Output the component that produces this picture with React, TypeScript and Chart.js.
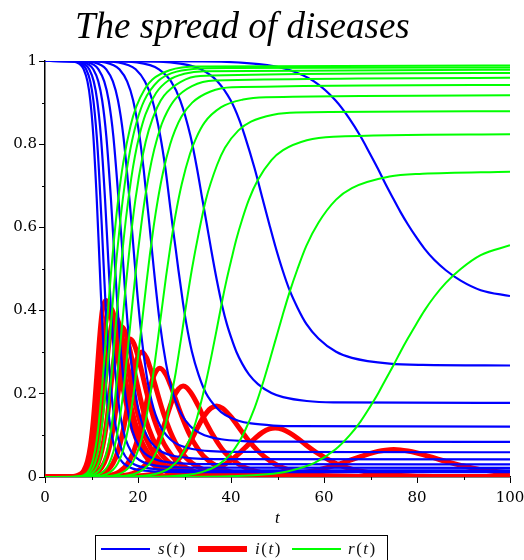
import React, { useEffect, useRef } from "react";
import { Chart, registerables } from "chart.js";

Chart.register(...registerables);

// ---- data (t, s(t), i(t), r(t) per curve) ----
const t15 = [0, 33.9, 47.8, 52.1, 57.85, 62.5, 65.5, 67.85, 69.8, 71.6, 73.2, 75, 76.4, 78.05, 79.8, 81.6, 83.7, 86.2, 89.4, 93.7, 100];
const s15 = [1, 0.999, 0.99, 0.98, 0.951, 0.905, 0.861, 0.819, 0.779, 0.741, 0.705, 0.667, 0.638, 0.607, 0.577, 0.549, 0.522, 0.497, 0.472, 0.449, 0.435];
const i15 = [0, 0.0003, 0.0033, 0.0065, 0.0154, 0.0285, 0.0398, 0.049, 0.0562, 0.0615, 0.0645, 0.066, 0.0652, 0.0625, 0.0584, 0.0528, 0.0458, 0.0375, 0.028, 0.0175, 0.01];
const r15 = [0, 0.0007, 0.0067, 0.0133, 0.0333, 0.0667, 0.1, 0.1333, 0.1667, 0.2, 0.2333, 0.27, 0.3, 0.3333, 0.3667, 0.4, 0.4333, 0.4667, 0.5, 0.5333, 0.557];

const t18 = [0, 22.2, 30.9, 33.55, 37.1, 39.95, 41.7, 43, 45.1, 46.76, 48.25, 49.5, 51.1, 52.6, 54.3, 56.2, 58.8, 62.6, 66, 74.1, 81.2, 100];
const s18 = [1, 0.999, 0.99, 0.98, 0.951, 0.905, 0.861, 0.819, 0.741, 0.67, 0.607, 0.556, 0.497, 0.449, 0.407, 0.368, 0.333, 0.301, 0.2865, 0.2725, 0.2693, 0.268];
const i18 = [0, 0.0004, 0.0044, 0.0087, 0.021, 0.0396, 0.056, 0.0702, 0.0925, 0.1075, 0.1157, 0.1179, 0.1145, 0.1062, 0.0934, 0.0766, 0.056, 0.0321, 0.0191, 0.0052, 0.0018, 0];
const r18 = [0, 0.0006, 0.0056, 0.0111, 0.0278, 0.0556, 0.0833, 0.1111, 0.1667, 0.2222, 0.2778, 0.3266, 0.3889, 0.4444, 0.5, 0.5556, 0.6111, 0.6667, 0.6944, 0.7222, 0.7289, 0.734];

const t21 = [0, 16.3, 22.6, 24.5, 27.1, 29.1, 31.3, 32.7, 33.8, 34.8, 35.7, 36.9, 38.2, 39.1, 40.1, 41.15, 42.4, 43.85, 45.8, 48.7, 51.2, 56.3, 62, 100];
const s21 = [1, 0.999, 0.99, 0.98, 0.951, 0.905, 0.819, 0.741, 0.67, 0.607, 0.549, 0.476, 0.407, 0.368, 0.333, 0.301, 0.2725, 0.2466, 0.2231, 0.2019, 0.1921, 0.1827, 0.1794, 0.178];
const i21 = [0, 0.0005, 0.0052, 0.0103, 0.025, 0.0475, 0.086, 0.1163, 0.1392, 0.1554, 0.1655, 0.1705, 0.1649, 0.1559, 0.1433, 0.1274, 0.1084, 0.0867, 0.0626, 0.0362, 0.0222, 0.0078, 0.0025, 0];
const r21 = [0, 0.0005, 0.0048, 0.0095, 0.0238, 0.0476, 0.0952, 0.1429, 0.1905, 0.2381, 0.2857, 0.3533, 0.4286, 0.4762, 0.5238, 0.5714, 0.619, 0.6667, 0.7143, 0.7619, 0.7857, 0.8095, 0.8181, 0.824];

const t24 = [0, 13.05, 18, 19.5, 21.5, 23.1, 24.8, 25.9, 26.7, 27.4, 28.1, 28.7, 29.7, 30.4, 31.6, 33, 34.6, 37, 38.7, 41.6, 44.3, 49.1, 54, 100];
const s24 = [1, 0.999, 0.99, 0.98, 0.951, 0.905, 0.819, 0.741, 0.67, 0.607, 0.549, 0.497, 0.4167, 0.368, 0.301, 0.2466, 0.2019, 0.1653, 0.1496, 0.1353, 0.1287, 0.1237, 0.1221, 0.1213];
const i24 = [0, 0.0006, 0.0058, 0.0115, 0.0279, 0.0535, 0.0979, 0.1342, 0.163, 0.1851, 0.2012, 0.2117, 0.2185, 0.2155, 0.1988, 0.1701, 0.1314, 0.0847, 0.0588, 0.0313, 0.0171, 0.0055, 0.0017, 0];
const r24 = [0, 0.0004, 0.0042, 0.0083, 0.0208, 0.0417, 0.0833, 0.125, 0.1667, 0.2083, 0.25, 0.2917, 0.3648, 0.4167, 0.5, 0.5833, 0.6667, 0.75, 0.7917, 0.8333, 0.8542, 0.8708, 0.8762, 0.8795];

const t27 = [0, 10.7, 14.76, 16, 17.66, 18.96, 20.33, 21.2, 22.45, 23.43, 24.7, 26.03, 26.98, 28.06, 29.4, 31.2, 32.5, 34.3, 37.9, 42.6, 47.5, 100];
const s27 = [1, 0.999, 0.99, 0.98, 0.951, 0.905, 0.819, 0.741, 0.607, 0.497, 0.37, 0.2725, 0.2231, 0.1827, 0.1496, 0.1225, 0.1108, 0.1003, 0.0907, 0.0863, 0.085, 0.0845];
const i27 = [0, 0.0006, 0.0062, 0.0124, 0.0303, 0.0581, 0.1072, 0.1481, 0.2083, 0.2442, 0.2617, 0.246, 0.2213, 0.1877, 0.1467, 0.0998, 0.0744, 0.0479, 0.0204, 0.0063, 0.002, 0];
const r27 = [0, 0.0004, 0.0037, 0.0074, 0.0185, 0.037, 0.0741, 0.1111, 0.1852, 0.2593, 0.3679, 0.4815, 0.5556, 0.6296, 0.7037, 0.7778, 0.8148, 0.8519, 0.8889, 0.9074, 0.913, 0.9175];

const t30 = [0, 8.67, 12.13, 13.18, 14.6, 15.7, 16.86, 18.15, 19.04, 19.79, 20.8, 21.82, 22.54, 23.34, 24.27, 25.4, 26.92, 27.96, 29.36, 31.66, 35.6, 40.2, 100];
const s30 = [1, 0.999, 0.99, 0.98, 0.951, 0.905, 0.819, 0.67, 0.549, 0.449, 0.3333, 0.2466, 0.2019, 0.1653, 0.1353, 0.1108, 0.0907, 0.0821, 0.0743, 0.0672, 0.062, 0.0602, 0.0595];
const i30 = [0, 0.0007, 0.0066, 0.0131, 0.0321, 0.0618, 0.1146, 0.1963, 0.2512, 0.284, 0.3005, 0.2867, 0.2648, 0.2347, 0.198, 0.1559, 0.1093, 0.0846, 0.0591, 0.0328, 0.0113, 0.0031, 0];
const r30 = [0, 0.0003, 0.0033, 0.0067, 0.0167, 0.0333, 0.0667, 0.1333, 0.2, 0.2667, 0.3662, 0.4667, 0.5333, 0.6, 0.6667, 0.7333, 0.8, 0.8333, 0.8667, 0.9, 0.9267, 0.9367, 0.9425];

const t33 = [0, 7.6, 10.6, 11.5, 12.74, 13.7, 14.7, 15.8, 16.6, 17.2, 17.77, 18.3, 18.86, 19.43, 20.03, 20.7, 21.45, 22.35, 23.5, 25.1, 26.3, 28.05, 31.6, 36.4, 100];
const s33 = [1, 0.999, 0.99, 0.98, 0.951, 0.905, 0.819, 0.67, 0.549, 0.449, 0.368, 0.303, 0.2466, 0.2019, 0.1653, 0.1353, 0.1108, 0.0907, 0.0743, 0.0608, 0.055, 0.0498, 0.045, 0.0431, 0.0424];
const i33 = [0, 0.0007, 0.0069, 0.0137, 0.0336, 0.0649, 0.1207, 0.2085, 0.2694, 0.3062, 0.326, 0.332, 0.326, 0.3113, 0.2882, 0.2586, 0.2225, 0.182, 0.1378, 0.0907, 0.0662, 0.0411, 0.0156, 0.0039, 0];
const r33 = [0, 0.0003, 0.003, 0.0061, 0.0152, 0.0303, 0.0606, 0.1212, 0.1818, 0.2424, 0.303, 0.3618, 0.4242, 0.4848, 0.5455, 0.6061, 0.6667, 0.7273, 0.7879, 0.8485, 0.8788, 0.9091, 0.9394, 0.953, 0.9595];

const t36 = [0, 6.9, 9.57, 10.38, 11.46, 12.3, 13.19, 14.17, 14.83, 15.37, 15.85, 16.5, 17.24, 18.24, 19.44, 21.1, 22.3, 24.13, 25.6, 29.2, 33.4, 100];
const s36 = [1, 0.999, 0.99, 0.98, 0.951, 0.905, 0.819, 0.67, 0.549, 0.449, 0.368, 0.2778, 0.2019, 0.1353, 0.0907, 0.0608, 0.0498, 0.0408, 0.0369, 0.0327, 0.0311, 0.0305];
const i36 = [0, 0.0007, 0.0072, 0.0143, 0.0349, 0.0674, 0.1257, 0.2186, 0.2825, 0.325, 0.3495, 0.361, 0.349, 0.3065, 0.2426, 0.1614, 0.1169, 0.0703, 0.0465, 0.0173, 0.005, 0];
const r36 = [0, 0.0003, 0.0028, 0.0056, 0.0139, 0.0278, 0.0556, 0.1111, 0.1667, 0.2222, 0.2778, 0.3558, 0.4444, 0.5556, 0.6667, 0.7778, 0.8333, 0.8889, 0.9167, 0.95, 0.9639, 0.971];

const t39 = [0, 6.4, 8.79, 9.51, 10.48, 11.23, 12.02, 12.9, 13.48, 13.96, 14.385, 14.785, 15.1, 15.57, 16.4, 17.35, 18.55, 19.31, 20.28, 21.61, 23.88, 26.6, 29.95, 34.2, 100];
const s39 = [1, 0.999, 0.99, 0.98, 0.951, 0.905, 0.819, 0.67, 0.549, 0.449, 0.368, 0.301, 0.2564, 0.2019, 0.1353, 0.0907, 0.0608, 0.0498, 0.0408, 0.0334, 0.0273, 0.0242, 0.0228, 0.0223, 0.0221];
const i39 = [0, 0.0007, 0.0074, 0.0147, 0.036, 0.0695, 0.13, 0.2271, 0.2953, 0.341, 0.368, 0.381, 0.385, 0.379, 0.346, 0.2915, 0.2212, 0.181, 0.1387, 0.0948, 0.0496, 0.022, 0.0079, 0.0022, 0];
const r39 = [0, 0.0003, 0.0026, 0.0051, 0.0128, 0.0256, 0.0513, 0.1026, 0.1538, 0.2051, 0.2564, 0.3077, 0.349, 0.4103, 0.5128, 0.6154, 0.7179, 0.7692, 0.8205, 0.8718, 0.9231, 0.9538, 0.9692, 0.9756, 0.979];

const t42 = [0, 6.03, 8.2, 8.85, 9.73, 10.41, 11.13, 11.58, 12.2, 12.66, 13.06, 13.42, 14, 14.63, 15.37, 16.22, 17.27, 17.93, 18.74, 19.8, 21.34, 24.4, 27.4, 31.9, 40, 100];
const s42 = [1, 0.999, 0.99, 0.98, 0.951, 0.905, 0.819, 0.741, 0.607, 0.497, 0.407, 0.333, 0.2381, 0.1653, 0.1108, 0.0743, 0.0498, 0.0408, 0.0334, 0.0273, 0.0224, 0.0183, 0.0169, 0.0162, 0.0161, 0.016];
const i42 = [0, 0.0008, 0.0076, 0.0151, 0.0369, 0.0714, 0.1337, 0.1878, 0.2724, 0.332, 0.372, 0.394, 0.407, 0.396, 0.358, 0.3035, 0.2359, 0.1973, 0.1571, 0.1155, 0.0729, 0.0293, 0.0117, 0.0028, 0.0005, 0];
const r42 = [0, 0.0002, 0.0024, 0.0048, 0.0119, 0.0238, 0.0476, 0.0714, 0.119, 0.1667, 0.2143, 0.2619, 0.3417, 0.4286, 0.5238, 0.619, 0.7143, 0.7619, 0.8095, 0.8571, 0.9048, 0.9524, 0.9714, 0.981, 0.9834, 0.9845];

const t45 = [0, 5.75, 7.73, 8.33, 9.13, 9.75, 10.4, 11.12, 11.6, 11.98, 12.32, 12.64, 13.1, 13.55, 14.18, 14.9, 15.74, 16.83, 18.4, 19.59, 21.49, 23.1, 26.8, 32.8, 100];
const s45 = [1, 0.999, 0.99, 0.98, 0.951, 0.905, 0.819, 0.67, 0.549, 0.449, 0.368, 0.301, 0.2222, 0.1653, 0.1108, 0.0743, 0.0498, 0.0334, 0.0224, 0.0183, 0.015, 0.0136, 0.0123, 0.0118, 0.0117];
const i45 = [0, 0.0008, 0.0078, 0.0154, 0.0377, 0.0729, 0.1368, 0.2395, 0.314, 0.365, 0.4, 0.415, 0.424, 0.416, 0.387, 0.3405, 0.2805, 0.2111, 0.1332, 0.0928, 0.0517, 0.0309, 0.01, 0.0015, 0];
const r45 = [0, 0.0002, 0.0022, 0.0044, 0.0111, 0.0222, 0.0444, 0.0889, 0.1333, 0.1778, 0.2222, 0.2667, 0.3342, 0.4, 0.4889, 0.5778, 0.6667, 0.7556, 0.8444, 0.8889, 0.9333, 0.9556, 0.9778, 0.9867, 0.989];

const CURVES = [
  [t15, s15, i15, r15],
  [t18, s18, i18, r18],
  [t21, s21, i21, r21],
  [t24, s24, i24, r24],
  [t27, s27, i27, r27],
  [t30, s30, i30, r30],
  [t33, s33, i33, r33],
  [t36, s36, i36, r36],
  [t39, s39, i39, r39],
  [t42, s42, i42, r42],
  [t45, s45, i45, r45],
];

const X_MINOR = [10, 30, 50, 70, 90];
const Y_MINOR = [0.1, 0.3, 0.5, 0.7, 0.9];

const BLUE = "#0000ff";
const RED = "#ff0000";
const GREEN = "#00ff00";
const SERIF = "'Liberation Serif', 'Times New Roman', serif";
const TICK_FONT = "DejaVu Serif";

const minorTicks = {
  id: "minorTicks",
  afterDraw(chart: any) {
    const { ctx, scales, chartArea } = chart;
    ctx.save();
    ctx.strokeStyle = "#000";
    ctx.lineWidth = 1;
    ctx.beginPath();
    for (const v of X_MINOR) {
      const px = Math.round(scales.x.getPixelForValue(v)) + 0.5;
      ctx.moveTo(px, chartArea.bottom);
      ctx.lineTo(px, chartArea.bottom + 3);
    }
    for (const v of Y_MINOR) {
      const py = Math.round(scales.y.getPixelForValue(v)) + 0.5;
      ctx.moveTo(chartArea.left - 3, py);
      ctx.lineTo(chartArea.left, py);
    }
    ctx.stroke();
    ctx.restore();
  },
};

function mk(t: number[], v: number[], color: string, width: number) {
  return {
    data: t.map((x, k) => ({ x, y: v[k] })),
    borderColor: color,
    backgroundColor: color,
    borderWidth: width,
    pointRadius: 0,
    fill: false,
    cubicInterpolationMode: "monotone" as const,
  };
}

const fmtY = (v: any) => String(Number(Number(v).toFixed(1)));

export default function App() {
  const ref = useRef<HTMLCanvasElement>(null);

  useEffect(() => {
    if (!ref.current) return;
    const datasets: any[] = [];
    // Chart.js draws dataset 0 last (on top): green, then blue, then red.
    for (const c of CURVES) datasets.push(mk(c[0], c[3], GREEN, 2));
    for (const c of CURVES) datasets.push(mk(c[0], c[1], BLUE, 2.2));
    for (const c of CURVES) datasets.push(mk(c[0], c[2], RED, 5));

    const chart = new Chart(ref.current, {
      type: "line",
      data: { datasets },
      options: {
        animation: false,
        responsive: false,
        events: [],
        layout: { padding: { top: 61, right: 14, left: 0, bottom: 0 } },
        plugins: {
          legend: { display: false },
          tooltip: { enabled: false },
          title: { display: false },
        },
        scales: {
          x: {
            type: "linear",
            min: 0,
            max: 100,
            afterFit: (s: any) => {
              s.height = 83;
              s.paddingLeft = 0;
              s.paddingRight = 0;
            },
            ticks: {
              stepSize: 20,
              color: "#000",
              font: { family: TICK_FONT, size: 15 },
              padding: 6,
              maxRotation: 0,
            },
            grid: {
              drawOnChartArea: false,
              drawTicks: true,
              tickLength: 6,
              color: "#000",
            },
            border: { display: true, color: "#000", width: 1.5 },
          },
          y: {
            type: "linear",
            min: 0,
            max: 1,
            afterFit: (s: any) => {
              s.width = 45;
              s.paddingTop = 0;
              s.paddingBottom = 0;
            },
            ticks: {
              stepSize: 0.2,
              color: "#000",
              font: { family: TICK_FONT, size: 15 },
              padding: 2,
              callback: fmtY,
            },
            grid: {
              drawOnChartArea: false,
              drawTicks: true,
              tickLength: 6,
              color: "#000",
            },
            border: { display: true, color: "#000", width: 1.5 },
          },
        },
      },
      plugins: [minorTicks],
    });
    return () => chart.destroy();
  }, []);

  const legendText: React.CSSProperties = {
    position: "absolute",
    top: 540,
    fontFamily: SERIF,
    fontSize: 17,
    lineHeight: "18px",
    color: "#111",
    letterSpacing: "1.5px",
    whiteSpace: "nowrap",
  };

  return (
    <div
      style={{
        position: "absolute",
        left: 0,
        top: 0,
        width: 524,
        height: 560,
        overflow: "hidden",
        background: "#fff",
      }}
    >
      <canvas ref={ref} width={524} height={560} style={{ position: "absolute", left: 0, top: 0, display: "block" }} />
      <div
        style={{
          position: "absolute",
          left: 75,
          top: 8,
          fontFamily: SERIF,
          fontStyle: "italic",
          fontSize: 37,
          lineHeight: "36px",
          color: "#000",
          whiteSpace: "nowrap",
        }}
      >
        The spread of diseases
      </div>
      <div
        style={{
          position: "absolute",
          left: 275,
          top: 509,
          fontFamily: SERIF,
          fontStyle: "italic",
          fontSize: 17,
          lineHeight: "18px",
          color: "#000",
        }}
      >
        t
      </div>
      <div
        style={{
          position: "absolute",
          left: 95,
          top: 535,
          width: 291,
          height: 40,
          border: "1px solid #000",
        }}
      />
      <div style={{ position: "absolute", left: 101, top: 548, width: 49, height: 2, background: BLUE }} />
      <div style={{ ...legendText, left: 158 }}>
        <i>s</i>(<i>t</i>)
      </div>
      <div style={{ position: "absolute", left: 198, top: 546, width: 49, height: 6, background: RED }} />
      <div style={{ ...legendText, left: 255 }}>
        <i>i</i>(<i>t</i>)
      </div>
      <div style={{ position: "absolute", left: 292, top: 548, width: 49, height: 2, background: GREEN }} />
      <div style={{ ...legendText, left: 348 }}>
        <i>r</i>(<i>t</i>)
      </div>
    </div>
  );
}
